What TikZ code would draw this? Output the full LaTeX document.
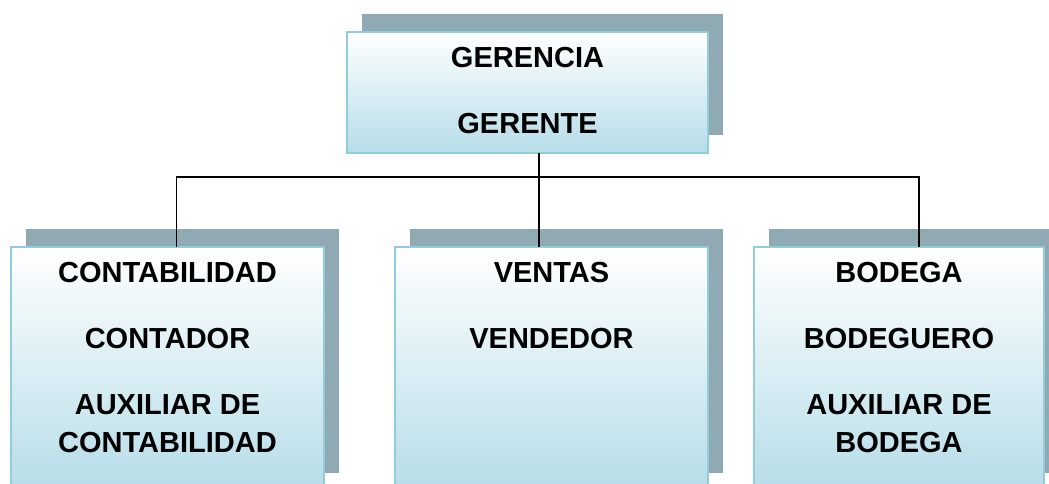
\documentclass[tikz,border=0pt]{standalone}
\usepackage{fontspec}
\setmainfont{Liberation Sans}
\usepackage{xcolor}
\usetikzlibrary{positioning, shadows}
\definecolor{aqualine}{HTML}{92CDDC}
\definecolor{aquafill}{HTML}{B6DDE8}
\definecolor{shadegray}{HTML}{8FAAB3}

\begin{document}
\begin{tikzpicture}[x=0.5pt, y=-0.5pt, font=\fontsize{14.5}{19}\selectfont\bfseries]
\tikzstyle{unit}=[draw=aqualine, line width=0.8pt, top color=white, bottom color=aquafill, inner sep=0pt, outer sep=0pt, anchor=north west, general shadow={fill=shadegray, shadow xshift=7.5pt, shadow yshift=9pt}]
\tikzstyle{lbl}=[anchor=north, align=center, inner sep=0pt]
\tikzstyle{link}=[line width=0.6pt]

\useasboundingbox (0,0) rectangle (1049,483);
\clip (0,0) rectangle (1049,483);

\node[unit, minimum width=180.5pt, minimum height=60.5pt] (ger) at (347,32) {};
\node[lbl] (gerT) at ([yshift=-7.6pt]ger.north) {GERENCIA\\[14pt]GERENTE};

\node[unit, minimum width=156.5pt, minimum height=122pt] (conta) at (11,247) {};
\node[lbl] (contaT) at ([yshift=-7.6pt]conta.north) {CONTABILIDAD\\[14pt]CONTADOR\\[14pt]AUXILIAR DE\\CONTABILIDAD};

\node[unit, minimum width=156.5pt, minimum height=122pt, right=35.5pt of conta] (vent) {};
\node[lbl] (ventT) at ([yshift=-7.6pt]vent.north) {VENTAS\\[14pt]VENDEDOR};

\node[unit, minimum width=145pt, minimum height=122pt, right=23pt of vent] (bod) {};
\node[lbl] (bodT) at ([yshift=-7.6pt]bod.north) {BODEGA\\[14pt]BODEGUERO\\[14pt]AUXILIAR DE\\BODEGA};

\coordinate (hub) at (539,177);
\draw[link] (ger.south -| hub) -- (hub);
\draw[link] ([xshift=4.5pt]conta.north) |- (hub) -| ([xshift=10pt]bod.north);
\draw[link] (hub) -- (vent.north -| hub);
\end{tikzpicture}
\end{document}
